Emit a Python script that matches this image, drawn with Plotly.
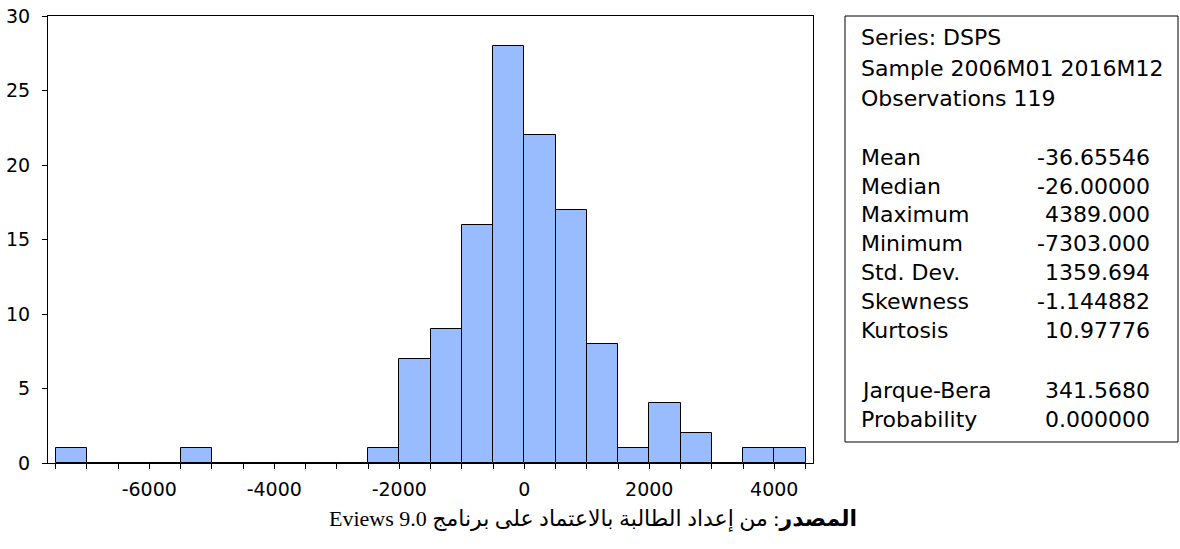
import plotly.graph_objects as go

# Histogram of DSPS: bins of width 500, labelled by their lower edge
bin_starts = [-7500, -7000, -6500, -6000, -5500, -5000, -4500, -4000, -3500, -3000,
              -2500, -2000, -1500, -1000, -500, 0, 500, 1000, 1500, 2000,
              2500, 3000, 3500, 4000]
counts = [1, 0, 0, 0, 1, 0, 0, 0, 0, 0,
          1, 7, 9, 16, 28, 22, 17, 8, 1, 4,
          2, 0, 1, 1]
bin_width = 500

x_tick_vals = [-6000, -4000, -2000, 0, 2000, 4000]
x_tick_text = ["-6000", "-4000", "-2000", "0", "2000", "4000"]
y_tick_vals = [0, 5, 10, 15, 20, 25, 30]

stat_header = ["Series: DSPS", "Sample 2006M01 2016M12", "Observations 119"]
stat_names = ["Mean", "Median", "Maximum", "Minimum", "Std. Dev.", "Skewness", "Kurtosis"]
stat_values = ["-36.65546", "-26.00000", "4389.000", "-7303.000", "1359.694", "-1.144882", "10.97776"]
test_names = ["Jarque-Bera", "Probability"]
test_values = ["341.5680", "0.000000"]

# SVG text runs left-to-right, so the Latin part comes first and the Arabic
# run is reordered right-to-left by the browser.
caption_latin = "Eviews 9.0"
caption_arabic = "<b>المصدر</b>: من إعداد الطالبة بالاعتماد على برنامج"

W, H = 1180, 549
L, R, T, B = 48, 367, 16, 86
plot_w = W - L - R
plot_h = H - T - B


def px_to_paper_x(px):
    return (px - L) / plot_w


def px_to_paper_y(py):
    return (H - B - py) / plot_h


fig = go.Figure()
fig.add_trace(go.Bar(
    x=[s + bin_width / 2 for s in bin_starts],
    y=counts,
    width=bin_width,
    marker=dict(color="#99bbff", line=dict(color="black", width=1)),
    hoverinfo="x+y",
))

font_main = "DejaVu Sans"

fig.update_layout(
    width=W, height=H,
    autosize=False,
    margin=dict(l=L, r=R, t=T, b=B, pad=0, autoexpand=False),
    paper_bgcolor="white",
    plot_bgcolor="white",
    showlegend=False,
    bargap=0,
    font=dict(family=font_main, color="black", size=19),
    xaxis=dict(
        range=[-7620, 4620],
        tickmode="array", tickvals=x_tick_vals, ticktext=x_tick_text,
        ticks="outside", ticklen=5, tickcolor="black", tickwidth=1,
        minor=dict(tickmode="linear", tick0=0, dtick=500, ticks="outside", ticklen=5,
                   tickcolor="black", tickwidth=1, showgrid=False),
        showline=True, linecolor="black", linewidth=1, mirror=True,
        showgrid=False, zeroline=False, automargin=False,
        ticklabelstandoff=4,
        tickfont=dict(family=font_main, size=19),
    ),
    yaxis=dict(
        range=[0, 30], tickmode="array", tickvals=y_tick_vals,
        ticks="outside", ticklen=5, tickcolor="black", tickwidth=1,
        showline=True, linecolor="black", linewidth=1, mirror=True,
        showgrid=False, zeroline=False, automargin=False,
        ticklabelstandoff=8,
        tickfont=dict(family=font_main, size=19),
    ),
)

# statistics box
fig.add_shape(
    type="rect", xref="paper", yref="paper",
    x0=px_to_paper_x(845), x1=px_to_paper_x(1178),
    y0=px_to_paper_y(442), y1=px_to_paper_y(16),
    line=dict(color="black", width=1), fillcolor="white",
)

left_x = px_to_paper_x(859)
right_x = px_to_paper_x(1152)
stat_font = dict(family=font_main, size=22, color="black")

header_y = [38, 68, 98]
for text, yy in zip(stat_header, header_y):
    fig.add_annotation(x=left_x, y=px_to_paper_y(yy), xref="paper", yref="paper",
                       text=text, showarrow=False, xanchor="left", yanchor="middle",
                       font=stat_font)

stat_y = [157, 186, 214, 243, 272, 301, 330]
for name, val, yy in zip(stat_names, stat_values, stat_y):
    fig.add_annotation(x=left_x, y=px_to_paper_y(yy), xref="paper", yref="paper",
                       text=name, showarrow=False, xanchor="left", yanchor="middle",
                       font=stat_font)
    fig.add_annotation(x=right_x, y=px_to_paper_y(yy), xref="paper", yref="paper",
                       text=val, showarrow=False, xanchor="right", yanchor="middle",
                       font=stat_font)

test_y = [390, 419]
for name, val, yy in zip(test_names, test_values, test_y):
    fig.add_annotation(x=left_x, y=px_to_paper_y(yy), xref="paper", yref="paper",
                       text=name, showarrow=False, xanchor="left", yanchor="middle",
                       font=stat_font)
    fig.add_annotation(x=right_x, y=px_to_paper_y(yy), xref="paper", yref="paper",
                       text=val, showarrow=False, xanchor="right", yanchor="middle",
                       font=stat_font)

# source caption below the chart
fig.add_annotation(x=px_to_paper_x(593), y=px_to_paper_y(519), xref="paper", yref="paper",
                   text=caption_latin + " " + caption_arabic, showarrow=False,
                   xanchor="center", yanchor="middle",
                   font=dict(family="Liberation Serif, DejaVu Sans", size=22, color="black"))

fig.write_html("out.html")
